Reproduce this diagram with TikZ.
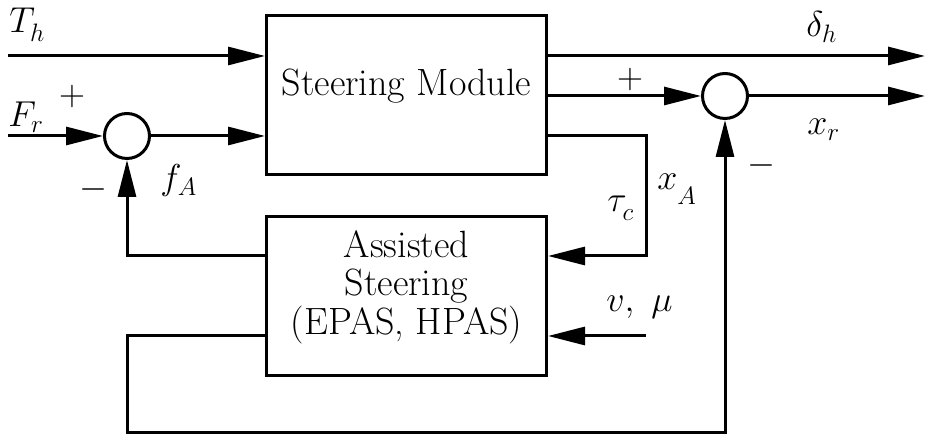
\RequirePackage{fix-cm}
\documentclass[tikz,border=0pt]{standalone}
\usetikzlibrary{arrows.meta}
\begin{document}
\begin{tikzpicture}[x=0.5pt,y=-0.5pt,
  every node/.style={font=\fontsize{18}{21.6}\selectfont},
  boxtext/.style={font=\fontsize{19}{19.2}\selectfont,inner sep=0pt},
  arr/.style={line width=1.5pt,-{Triangle[length=18.5pt,width=9pt]}},
  blk/.style={draw,line width=1.5pt,rectangle,minimum width=140pt,minimum height=79.5pt,inner sep=0pt},
  sumc/.style={draw,line width=1.5pt,circle,minimum size=22.5pt,inner sep=0pt},
  lbl/.style={inner sep=0pt,anchor=base west}]
\useasboundingbox (0,0) rectangle (927,437);
\fill[white] (0,0) rectangle (927,437);
% blocks
\node[blk] (sm) at (406.5,95.5) {};
\node[boxtext,anchor=base] (smt) at (406.5,96) {Steering Module};
\node[blk] (as) at (406.5,296) {};
\node[boxtext,align=center] (ast) at (406.5,287) {Assisted\\Steering\\(EPAS, HPAS)};
% summing junctions
\node[sumc] (s1) at (127,136) {};
\node[sumc] (s2) at (725,96) {};
% coordinates
\coordinate (thin) at (8,56);
\coordinate (frin) at (8,136);
\coordinate (dout) at (925,56);
\coordinate (xout) at (925,96);
\coordinate (xa) at (646,136);
\coordinate (fb1) at (127,256);
\coordinate (fb2) at (127,336);
\coordinate (vmu) at (646,336);
\coordinate (bot) at (127,433);
% connectors
\draw[arr] (thin) -- (thin -| sm.west);
\draw[arr] (frin) -- (s1.west);
\draw[arr] (s1.east) -- (s1.east -| sm.west);
\draw[arr] (sm.east |- thin) -- (dout);
\draw[arr] (sm.east |- s2) -- (s2.west);
\draw[arr] (s2.east) -- (xout);
\draw[arr] (sm.east |- xa) -- (xa) |- (as.east |- fb1);
\draw[arr] (as.west |- fb1) -- (fb1) -- (s1.south);
\draw[arr] (vmu) -- (as.east |- vmu);
\draw[arr] (as.west |- fb2) -- (fb2) -- (bot) -| (s2.south);
% labels
\node[lbl] (lth) at (9,33) {$T_{\lower1.5pt\hbox{$\scriptstyle h$}}$};
\node[lbl] (lfr) at (8,127) {$F_r$};
\node (lp1) at (72,97) {$+$};
\node (lm1) at (93,190) {$-$};
\node[lbl] (lfa) at (160,190) {$f_A$};
\node[lbl] (ldh) at (806,37) {$\delta_h$};
\node (lp2) at (630,80) {$+$};
\node[lbl] (lxr) at (807,135) {$x_r$};
\node (lm2) at (761,166) {$-$};
\node[lbl] (lxa) at (657,190) {$x_{\lower4.5pt\hbox{$\scriptstyle A$}}$};
\node[lbl] (ltc) at (607,212) {$\tau_{\lower1.5pt\hbox{$\scriptstyle c$}}$};
\node[lbl] (lvm) at (606,312) {$v,\ \mu$};
\end{tikzpicture}
\end{document}
